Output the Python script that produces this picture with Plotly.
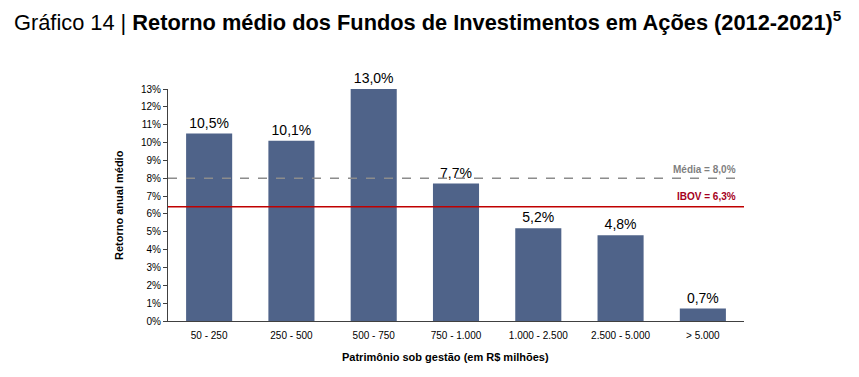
import plotly.graph_objects as go

categories = ["50 - 250", "250 - 500", "500 - 750", "750 - 1.000", "1.000 - 2.500", "2.500 - 5.000", "> 5.000"]
values = [10.5, 10.1, 13.0, 7.7, 5.2, 4.8, 0.7]
labels = ["10,5%", "10,1%", "13,0%", "7,7%", "5,2%", "4,8%", "0,7%"]
media = 8.0
ibov = 6.4
yticks = list(range(0, 14))

FONT = "Liberation Sans, Arial, sans-serif"
fig = go.Figure()
fig.add_trace(go.Bar(
    x=categories, y=values, text=labels, textposition="outside",
    textfont=dict(size=14, color="#000000", family=FONT),
    marker=dict(color="#4F6389", line=dict(width=0)),
    cliponaxis=False, width=0.56,
))
fig.add_shape(type="line", xref="paper", yref="y", x0=0, x1=0.995, y0=media, y1=media,
              line=dict(color="#8C8C8C", width=1.5, dash="dash"))
fig.add_shape(type="line", xref="paper", yref="y", x0=0, x1=1, y0=ibov, y1=ibov,
              line=dict(color="#C00000", width=1.5))
fig.add_annotation(xref="paper", yref="y", x=0.99, y=media, yshift=9, text="<b>Média = 8,0%</b>",
                   showarrow=False, xanchor="right", font=dict(size=10, color="#7F7F7F", family=FONT))
fig.add_annotation(xref="paper", yref="y", x=0.99, y=ibov, yshift=10, text="<b>IBOV = 6,3%</b>",
                   showarrow=False, xanchor="right", font=dict(size=10, color="#A50021", family=FONT))
fig.add_annotation(xref="paper", yref="paper", x=(119 - 168) / 576, y=0.5, xanchor="center", yanchor="middle",
                   text="<b>Retorno anual médio</b>",
                   textangle=-90, showarrow=False, font=dict(size=11, color="#000", family=FONT))
fig.add_annotation(xref="paper", yref="paper", x=(340 - 168) / 576, y=-(357 - 321) / 232,
                   xanchor="left", yanchor="middle",
                   text="<b>Patrimônio sob gestão (em R$ milhões)</b>",
                   showarrow=False, font=dict(size=11, color="#000", family=FONT))
fig.add_annotation(xref="paper", yref="paper", x=(12 - 168) / 576, y=1 + (89 - 21) / 232,
                   xanchor="left", yanchor="middle",
                   text="Gráfico 14 | <b>Retorno médio dos Fundos de Investimentos em Ações (2012-2021)<sup>5</sup></b>",
                   showarrow=False, font=dict(size=21.8, color="#000", family=FONT))
fig.update_layout(
    width=859, height=377,
    margin=dict(l=168, r=115, t=89, b=56),
    paper_bgcolor="white", plot_bgcolor="white",
    showlegend=False, bargap=0.44,
    font=dict(family=FONT, size=10, color="#000"),
    xaxis=dict(showline=True, linecolor="#404040", linewidth=1, ticks="", showgrid=False,
               tickfont=dict(size=10, family=FONT), ticklabelstandoff=5),
    yaxis=dict(range=[0, 13], tickvals=yticks, ticktext=[f"{v}%" for v in yticks],
               showline=True, linecolor="#404040", linewidth=1, ticks="outside", ticklen=4,
               tickcolor="#404040", showgrid=False, zeroline=False,
               tickfont=dict(size=10, family=FONT)),
)
fig.write_html("out.html")
